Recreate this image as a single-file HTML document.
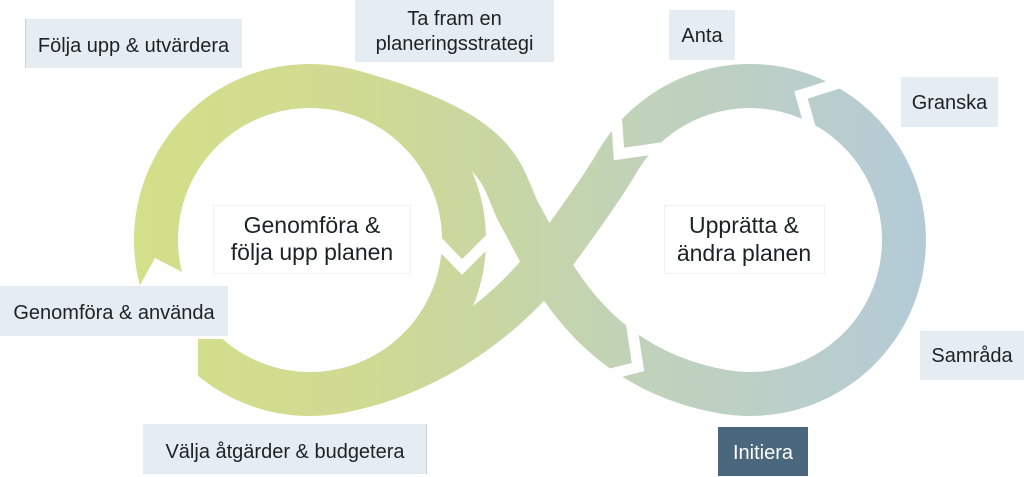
<!DOCTYPE html>
<html>
<head>
<meta charset="utf-8">
<style>
  html,body{margin:0;padding:0;background:#fff;}
  body{width:1024px;height:477px;overflow:hidden;}
  svg{display:block;}
  text{font-family:"Liberation Sans", Arial, sans-serif;fill:#1f2224;}
</style>
</head>
<body>
<svg width="1024" height="477" viewBox="0 0 1024 477" xmlns="http://www.w3.org/2000/svg">
  <defs>
    <linearGradient id="g" gradientUnits="userSpaceOnUse" x1="134" y1="0" x2="926" y2="0">
      <stop offset="0" stop-color="#d4df89"/>
      <stop offset="0.3" stop-color="#cfda93"/>
      <stop offset="0.5" stop-color="#c6d5a8"/>
      <stop offset="0.65" stop-color="#c0d2bb"/>
      <stop offset="0.8" stop-color="#bccfc7"/>
      <stop offset="1" stop-color="#b3cbd7"/>
    </linearGradient>
  </defs>

  <!-- left loop -->
  <circle cx="310" cy="240" r="154" fill="none" stroke="url(#g)" stroke-width="44"/>
  <!-- diagonals + right loop -->
  <path d="M349.9 91.25 C512 135 500 180 520 215 C545 258.3 585.4 367.3 723.3 391.7 A154 154 0 1 0 616.6 163 C601.6 189 566 238 548 262 C512 310 435.2 374.3 336.7 391.7"
        fill="none" stroke="url(#g)" stroke-width="44"/>

  <!-- white arrow gap on left loop -->
  <polygon points="118,287 140,285 155,258 182,272 242,300 242,339 198,339 198,384 118,384" fill="#ffffff"/>

  <!-- white chevrons -->
  <polyline points="435,239 462,267 492,237" fill="none" stroke="#ffffff" stroke-width="11" stroke-linejoin="miter"/>
  <polyline points="616,112 619,154 661,148" fill="none" stroke="#ffffff" stroke-width="11" stroke-linejoin="miter"/>
  <polyline points="839,83 801,95 812,134" fill="none" stroke="#ffffff" stroke-width="11" stroke-linejoin="miter"/>
  <polyline points="631,321 638,367 595,378" fill="none" stroke="#ffffff" stroke-width="11" stroke-linejoin="miter"/>

  <!-- center labels -->
  <rect x="213.5" y="205.5" width="197" height="68" fill="#ffffff" stroke="#eef0f1" stroke-width="1"/>
  <text x="312" y="233" font-size="23" text-anchor="middle">Genomföra &amp;</text>
  <text x="312" y="260" font-size="23" text-anchor="middle">följa upp planen</text>

  <rect x="664.5" y="205.5" width="160" height="68" fill="#ffffff" stroke="#eef0f1" stroke-width="1"/>
  <text x="744" y="233" font-size="23" text-anchor="middle">Upprätta &amp;</text>
  <text x="744" y="261" font-size="23" text-anchor="middle">ändra planen</text>

  <!-- step boxes -->
  <rect x="25" y="19" width="217" height="49" fill="#e5ecf2"/>
  <rect x="25" y="19" width="1" height="49" fill="#c9d3dc"/>
  <text x="133.5" y="52" font-size="20" text-anchor="middle">Följa upp &amp; utvärdera</text>

  <rect x="355" y="0" width="199" height="62" fill="#e5ecf2"/>
  <text x="454.5" y="25" font-size="20" text-anchor="middle">Ta fram en</text>
  <text x="454.5" y="50" font-size="20" text-anchor="middle">planeringsstrategi</text>

  <rect x="669" y="10" width="66" height="50" fill="#e5ecf2"/>
  <text x="702" y="42" font-size="20" text-anchor="middle">Anta</text>

  <rect x="901" y="77" width="97" height="50" fill="#e5ecf2"/>
  <text x="949.5" y="109" font-size="20" text-anchor="middle">Granska</text>

  <rect x="920" y="331" width="104" height="49" fill="#e5ecf2"/>
  <text x="972" y="362" font-size="20" text-anchor="middle">Samråda</text>

  <rect x="718" y="427" width="90" height="49" fill="#4a677d"/>
  <text x="763" y="459" font-size="20" text-anchor="middle" style="fill:#ffffff">Initiera</text>

  <rect x="143" y="424" width="284" height="50" fill="#e5ecf2"/>
  <rect x="426" y="424" width="1" height="50" fill="#c9d3dc"/>
  <text x="285" y="458" font-size="20" text-anchor="middle">Välja åtgärder &amp; budgetera</text>

  <rect x="0" y="286" width="228" height="50" fill="#e5ecf2"/>
  <text x="114" y="319" font-size="20" text-anchor="middle">Genomföra &amp; använda</text>
</svg>
</body>
</html>
